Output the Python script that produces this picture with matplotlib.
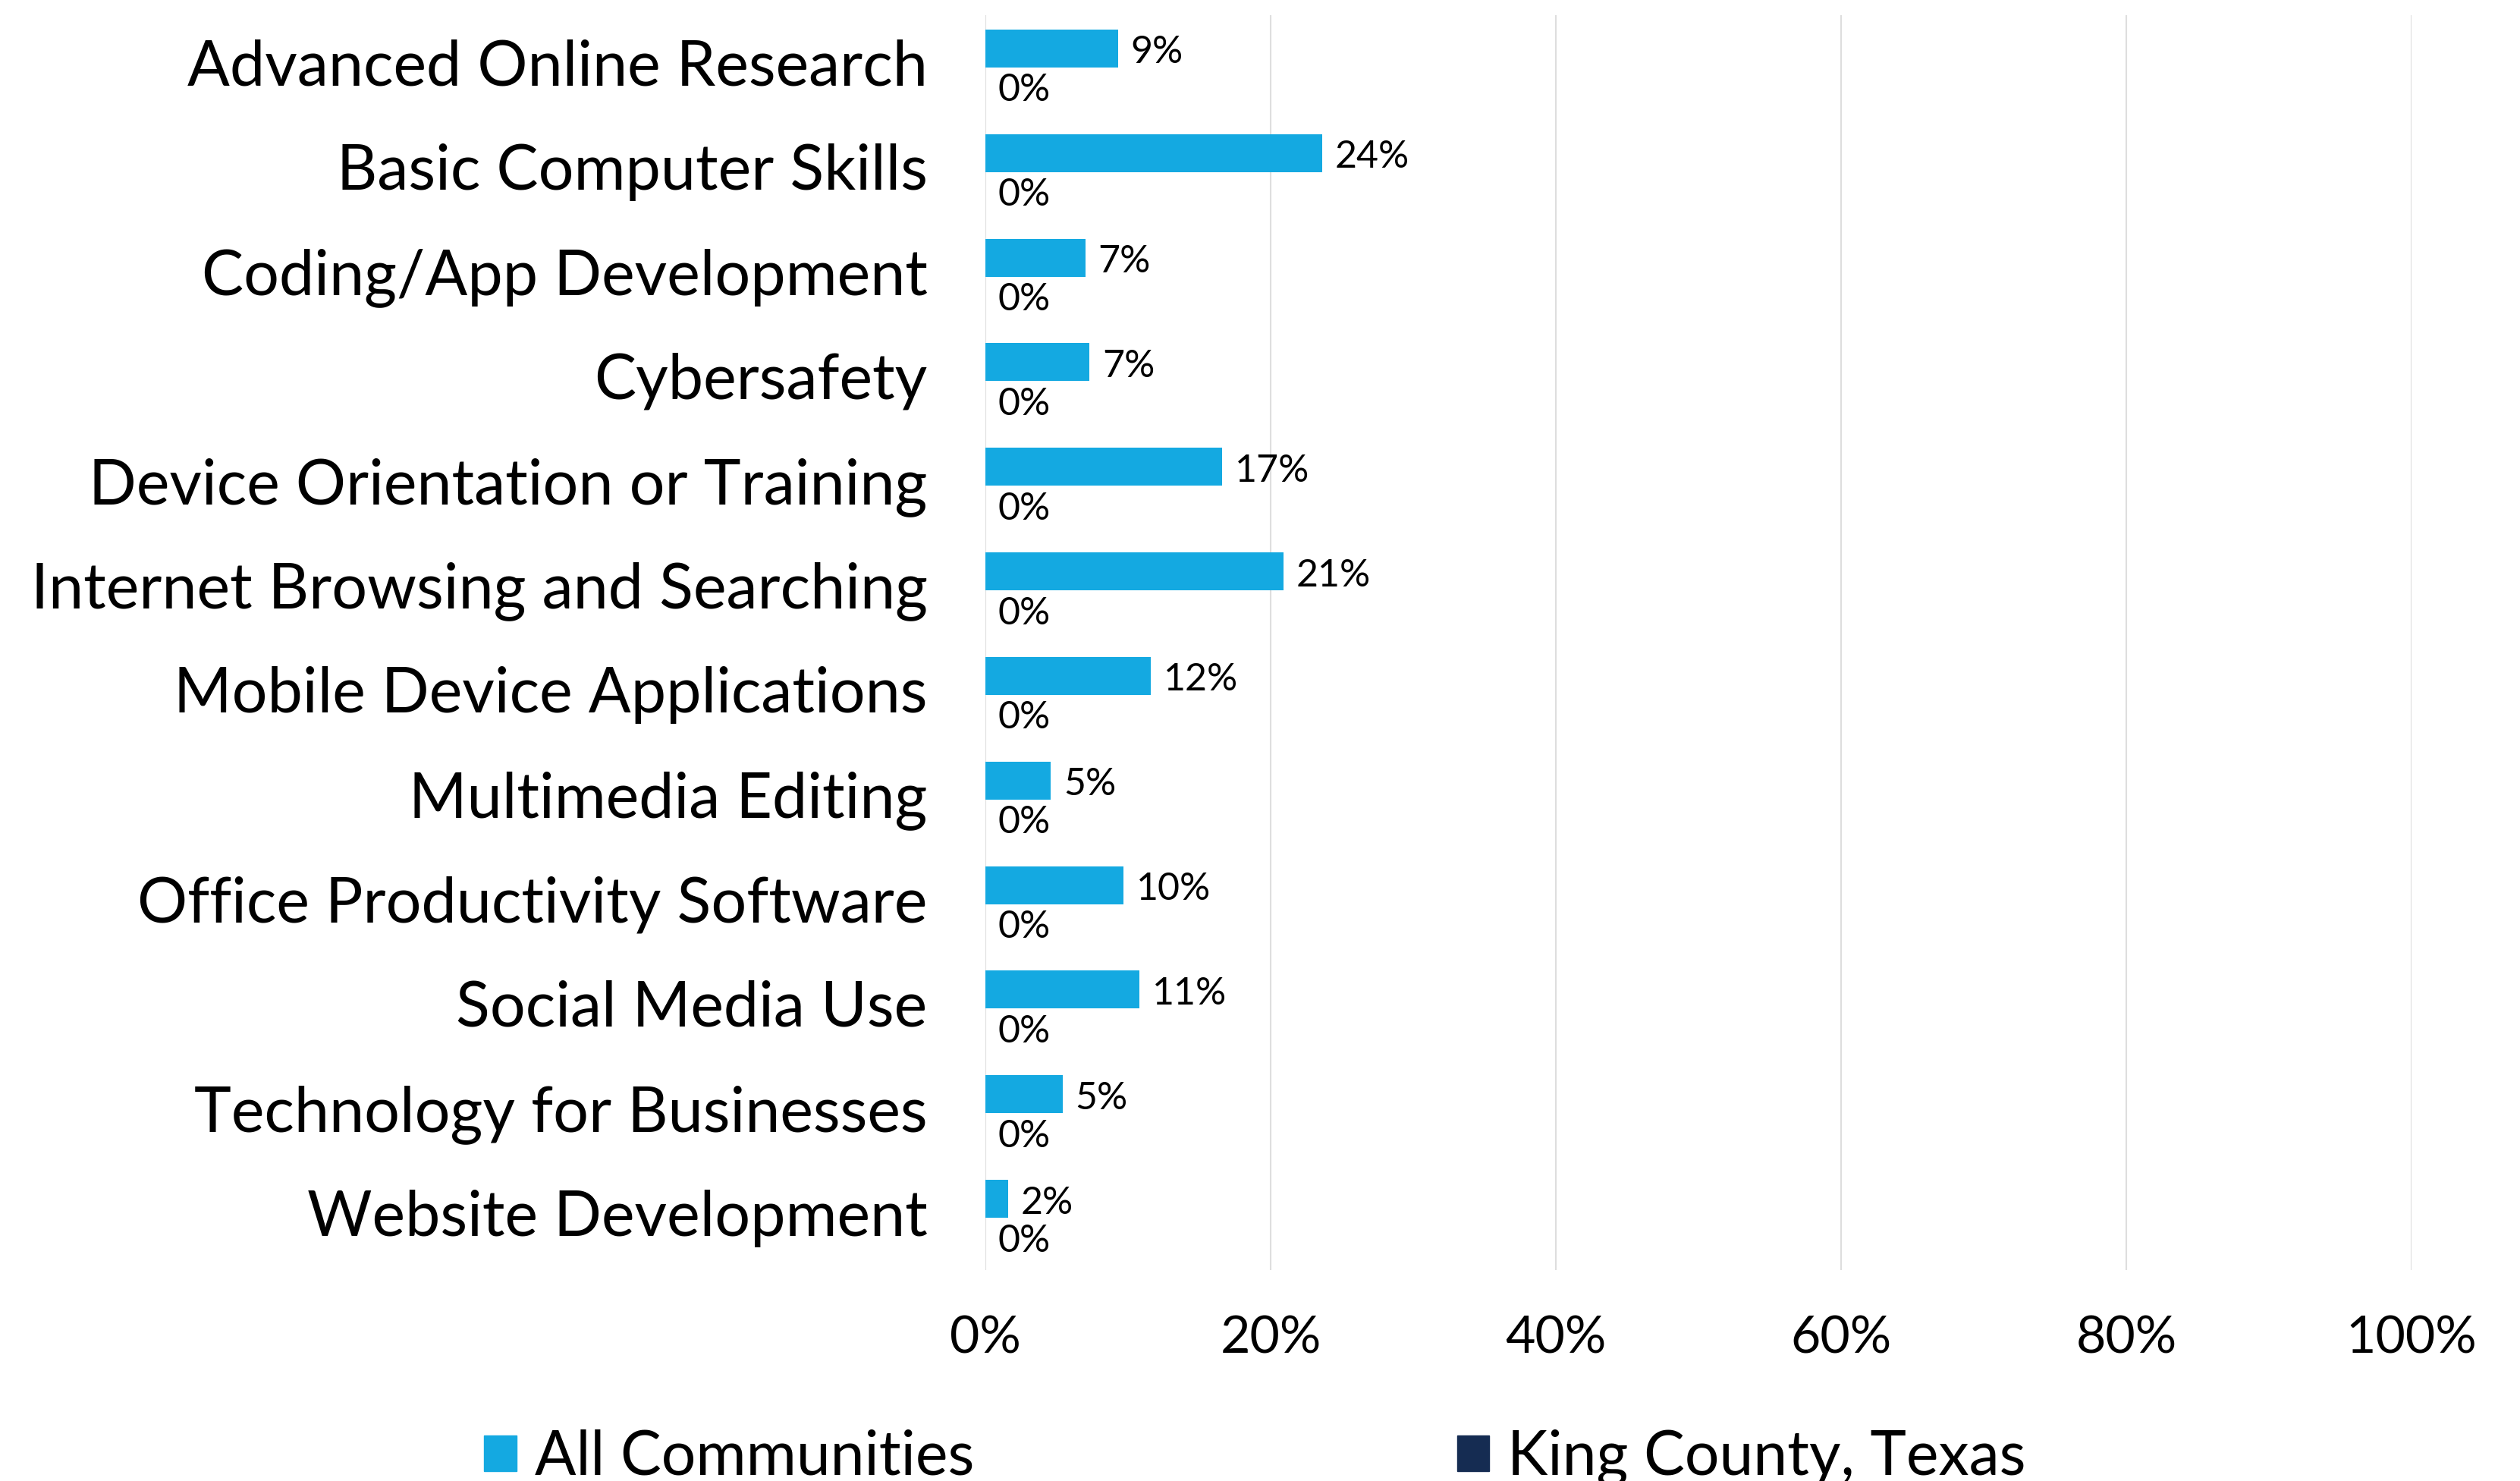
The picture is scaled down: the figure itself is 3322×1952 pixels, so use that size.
import numpy as np
import matplotlib
matplotlib.use("Agg")
import matplotlib.pyplot as plt
import matplotlib.transforms as mtransforms
from matplotlib.patches import Patch

plt.rcParams['font.family'] = ['Lato', 'DejaVu Sans']

categories = [
    "Advanced Online Research",
    "Basic Computer Skills",
    "Coding/App Development",
    "Cybersafety",
    "Device Orientation or Training",
    "Internet Browsing and Searching",
    "Mobile Device Applications",
    "Multimedia Editing",
    "Office Productivity Software",
    "Social Media Use",
    "Technology for Businesses",
    "Website Development",
]
all_communities = [9.3, 23.6, 7.0, 7.3, 16.6, 20.9, 11.6, 4.6, 9.7, 10.8, 5.4, 1.6]
king_county = [0, 0, 0, 0, 0, 0, 0, 0, 0, 0, 0, 0]
series_names = ["All Communities", "King County, Texas"]
colors = ["#14A9E1", "#152C52"]
xticks = [0, 20, 40, 60, 80, 100]

W, H = 3323, 1952
fig = plt.figure(figsize=(W / 100, H / 100), dpi=100)
ax = fig.add_axes([1299 / W, 1 - 1674 / H, (3179 - 1299) / W, (1674 - 20) / H])

y = np.arange(len(categories))
h = 0.363
b1 = ax.barh(y - h / 2, all_communities, height=h, color=colors[0], zorder=3)
b2 = ax.barh(y + h / 2, king_county, height=h, color=colors[1], zorder=3)

for bars, vals in [(b1, all_communities), (b2, king_county)]:
    for bar, v in zip(bars, vals):
        ax.annotate(f"{v:.0f}%", (v, bar.get_y() + bar.get_height() / 2),
                    xytext=(12, -4), textcoords="offset points",
                    va="center", ha="left", fontsize=36, color="#000000")

ax.set_xlim(0, 100)
ax.set_ylim(len(categories) - 0.5, -0.5)
ax.set_xticks(xticks)
ax.set_xticklabels([f"{t}%" for t in xticks], fontsize=49)
ax.set_yticks(y)
ax.set_yticklabels(categories, fontsize=59.5)
ax.tick_params(axis="both", length=0, colors="#000000")
ax.tick_params(axis="x", pad=43)
ax.tick_params(axis="y", pad=55)

# nudge category labels up a little
shift = mtransforms.ScaledTranslation(0, 5 / 72, fig.dpi_scale_trans)
for lbl in ax.get_yticklabels():
    lbl.set_transform(lbl.get_transform() + shift)

for s in ax.spines.values():
    s.set_visible(False)
ax.grid(axis="x", color="#DEDEDE", linewidth=1.5, zorder=0)

handles = [Patch(color=c, label=n) for c, n in zip(colors, series_names)]
fig.legend(handles=handles, loc="lower left", bbox_to_anchor=(638 / W, -0.004),
           ncol=2, frameon=False, prop={"size": 58},
           handlelength=0.53, handleheight=0.53, handletextpad=0.3,
           columnspacing=7.9, borderpad=0, borderaxespad=0)

fig.savefig("out.png", dpi=100, facecolor="white")
